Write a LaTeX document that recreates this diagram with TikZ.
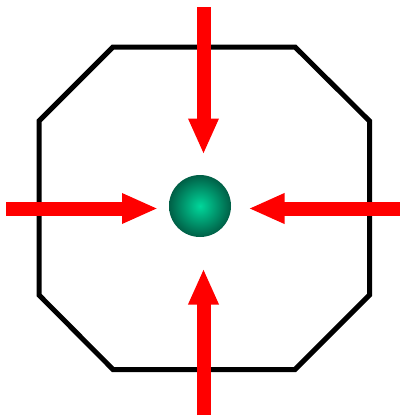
\documentclass[tikz,border=0pt]{standalone}
\usetikzlibrary{arrows.meta}
\definecolor{arrowred}{RGB}{255,0,0}
\definecolor{ballin}{RGB}{0,215,155}
\definecolor{ballout}{RGB}{0,95,70}
\begin{document}
\begin{tikzpicture}[x=1pt,y=-1pt,
  octo/.style={line width=5pt, line join=miter, black},
  force/.style={line width=14pt, arrowred, -{Triangle[width=28pt,length=36pt]}},
  ballstyle/.style={circle, minimum size=62pt, inner sep=0pt, inner color=ballin, outer color=ballout}]
\useasboundingbox[fill=white] (0,0) rectangle (401,416);
\draw[octo] (113,47) -- (295,47) -- (369.5,121) -- (369.5,295) -- (295,369.5) -- (113,369.5) -- (39,295) -- (39,121) -- cycle;
\node[ballstyle] (ball) at (200,206) {};
\coordinate (tS) at (203.5,7);   \coordinate (tE) at (203.5,154.5);
\coordinate (bS) at (203.5,415); \coordinate (bE) at (203.5,268.5);
\coordinate (lS) at (6,208.5);   \coordinate (lE) at (158,208.5);
\coordinate (rS) at (399.5,208.5); \coordinate (rE) at (248.5,208.5);
\draw[force] (tS) -- (tE);
\draw[force] (bS) -- (bE);
\draw[force] (lS) -- (lE);
\draw[force] (rS) -- (rE);
\end{tikzpicture}
\end{document}
